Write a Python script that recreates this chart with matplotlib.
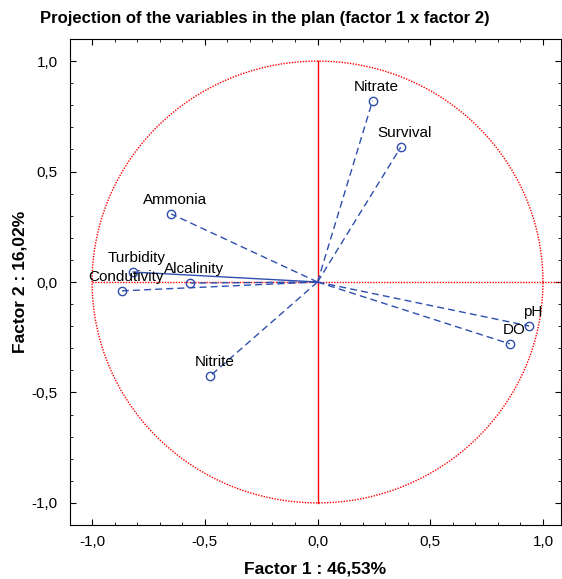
import numpy as np
import matplotlib
matplotlib.use('Agg')
import matplotlib.pyplot as plt
from matplotlib.ticker import MultipleLocator, FuncFormatter

plt.rcParams['font.family'] = ['Liberation Sans', 'DejaVu Sans']

# variable coordinates on factor 1 / factor 2
variables = ['Nitrate', 'Survival', 'Ammonia', 'Turbidity', 'Alcalinity',
             'Condutivity', 'Nitrite', 'pH', 'DO']
factor1 = [0.244, 0.369, -0.649, -0.818, -0.564, -0.867, -0.476, 0.938, 0.853]
factor2 = [0.820, 0.610, 0.308, 0.045, -0.005, -0.040, -0.425, -0.199, -0.280]
line_styles = ['--', '--', '--', '-', '--', '--', '--', '--', '--']
blue = '#2f4fae'

fig = plt.figure(figsize=(5.62, 5.79), dpi=100)
ax = fig.add_axes([70 / 562, 54 / 579, 491 / 562, 486 / 579])

# unit circle and axes through origin
t = np.linspace(0, 2 * np.pi, 400)
ax.plot(np.cos(t), np.sin(t), color='red', lw=1, linestyle=(0, (1, 1)))
ax.plot([0, 0], [-1, 1], color='red', lw=1)
ax.plot([-1, 1.1], [0, 0], color='red', lw=1, linestyle=(0, (1, 1)))

for name, x, y, ls in zip(variables, factor1, factor2, line_styles):
    ax.plot([0, x], [0, y], color=blue, lw=1, linestyle=ls if ls == '-' else (0, (5, 3)))
    ax.plot(x, y, 'o', mfc='none', mec=blue, ms=6, mew=1)
    ax.annotate(name, (x, y), xytext=(4, 7), textcoords='offset pixels',
                ha='center', va='bottom', fontsize=11)

ax.set_xlim(-1.098, 1.08)
ax.set_ylim(-1.1, 1.1)
ax.xaxis.set_major_locator(MultipleLocator(0.5))
ax.xaxis.set_minor_locator(MultipleLocator(0.1))
ax.yaxis.set_major_locator(MultipleLocator(0.5))
ax.yaxis.set_minor_locator(MultipleLocator(0.1))
fmt = FuncFormatter(lambda v, p: ('%.1f' % v).replace('.', ',').replace('-0,0', '0,0'))
ax.xaxis.set_major_formatter(fmt)
ax.yaxis.set_major_formatter(fmt)
ax.tick_params(which='both', direction='in', top=True, right=True, labelsize=11)
ax.tick_params(axis='y', pad=9)
ax.tick_params(axis='x', pad=7)
ax.tick_params(which='major', length=4)
ax.tick_params(which='minor', length=2)

fig.text(265 / 562, 1 - 18 / 579, 'Projection of the variables in the plan (factor 1 x factor 2)',
         ha='center', va='center', fontsize=12, fontweight='bold')
ax.set_xlabel('Factor 1 : 46,53%', fontsize=12.5, fontweight='bold', labelpad=9)
ax.set_ylabel('Factor 2 : 16,02%', fontsize=12.5, fontweight='bold', labelpad=3)

fig.savefig('out.png', dpi=100)
